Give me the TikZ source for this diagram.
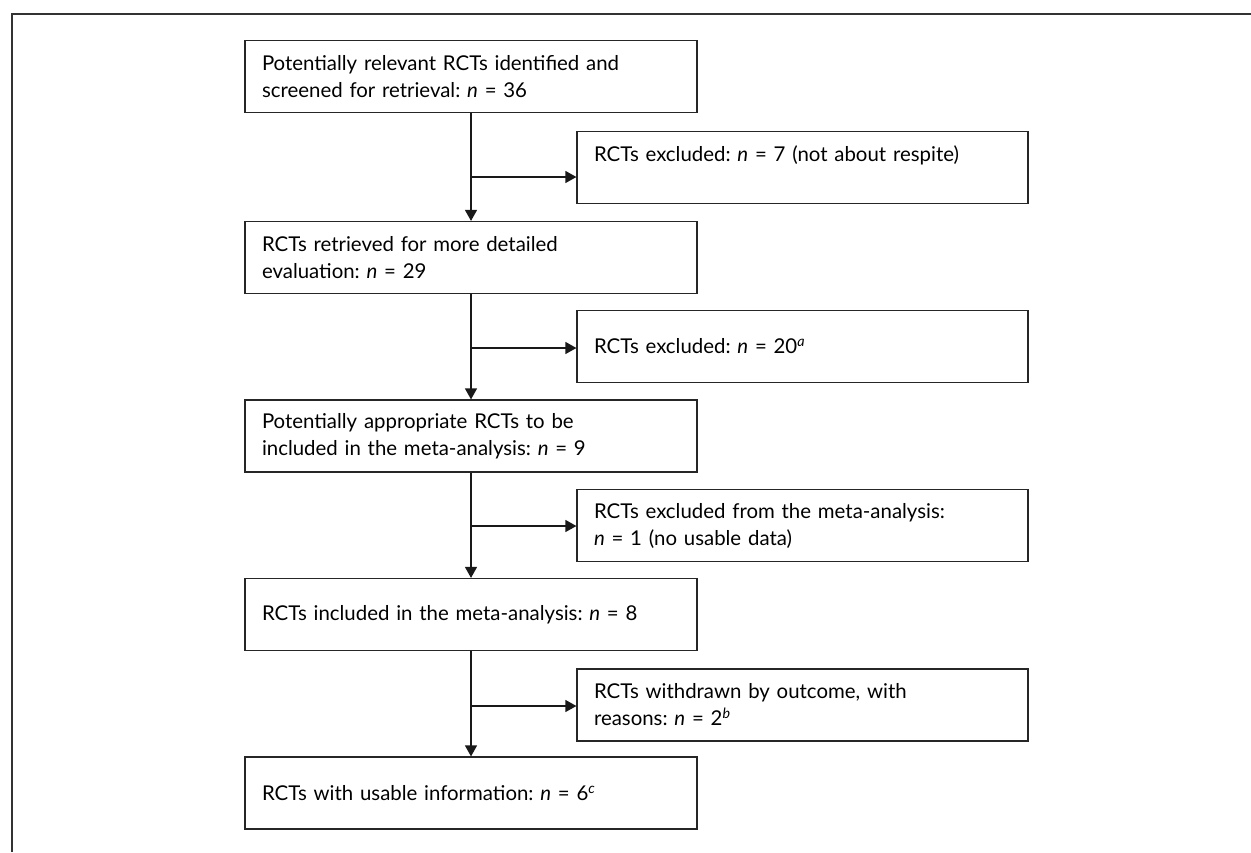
\documentclass[tikz,border=0pt]{standalone}
\usepackage{fontspec}
\setmainfont{Lato}
\usetikzlibrary{arrows.meta}
\frenchspacing
\begin{document}
\begin{tikzpicture}[x=0.5pt,y=-0.5pt,
  box/.style={draw=black!85, line width=0.6pt, rectangle, minimum height=36pt,
    inner xsep=8.5pt, inner ysep=0pt, align=left, text width=209pt,
    font=\fontsize{10.2}{13.5}\selectfont},
  sidebox/.style={box, text width=208.5pt},
  arr/.style={draw=black!90, line width=0.6pt, -{Triangle[length=5.5pt,width=6pt]}},
  frame/.style={draw=black!80, line width=0.9pt}]
\useasboundingbox (0,0) rectangle (1251,852);
\draw[frame] (12,852) -- (12,14) -- (1251,14);

\node[box] (b1) at (471,76.5) {Potentially relevant RCTs identified and\\screened for retrieval: \textit{n} = 36};
\node[box] (b2) at (471,257.5) {RCTs retrieved for more detailed\\evaluation: \textit{n} = 29};
\node[box] (b3) at (471,436) {Potentially appropriate RCTs to be\\included in the meta-analysis: \textit{n} = 9};
\node[box] (b4) at (471,614.5) {RCTs included in the meta-analysis: \textit{n} = 8};
\node[box] (b5) at (471,793) {RCTs with usable information: \textit{n} = 6\textsuperscript{\textit{c}}};

\node[sidebox] (s1) at (802.5,167.5) {RCTs excluded: \textit{n} = 7 (not about respite)\\\mbox{}};
\node[sidebox] (s2) at (802.5,346.5) {RCTs excluded: \textit{n} = 20\textsuperscript{\textit{a}}};
\node[sidebox] (s3) at (802.5,525.5) {RCTs excluded from the meta-analysis:\\\textit{n} = 1 (no usable data)};
\node[sidebox] (s4) at (802.5,705) {RCTs withdrawn by outcome, with\\reasons: \textit{n} = 2\textsuperscript{\textit{b}}};

\coordinate (j1) at (471,177);
\coordinate (j2) at (471,348);
\coordinate (j3) at (471,526);
\coordinate (j4) at (471,706);

\draw[arr] (b1.south) -- (b2.north);
\draw[arr] (b2.south) -- (b3.north);
\draw[arr] (b3.south) -- (b4.north);
\draw[arr] (b4.south) -- (b5.north);

\draw[arr] (j1) -- (j1 -| s1.west);
\draw[arr] (j2) -- (j2 -| s2.west);
\draw[arr] (j3) -- (j3 -| s3.west);
\draw[arr] (j4) -- (j4 -| s4.west);
\end{tikzpicture}
\end{document}
